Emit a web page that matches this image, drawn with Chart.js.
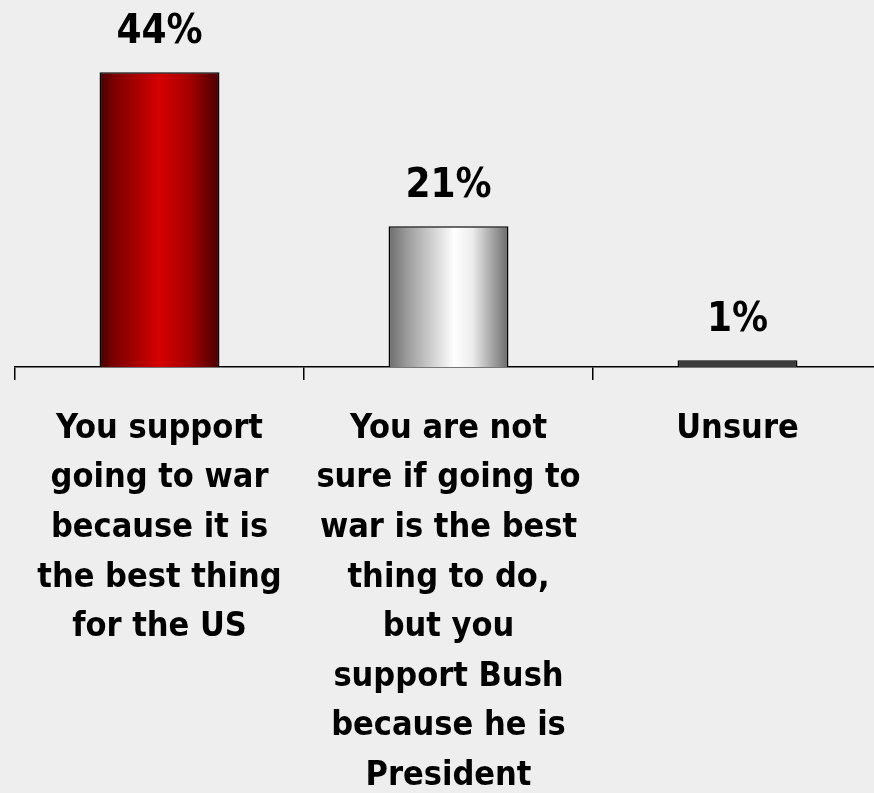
<!DOCTYPE html>
<html>
<head>
<meta charset="utf-8">
<script src="https://cdn.jsdelivr.net/npm/chart.js@4.4.1/dist/chart.umd.min.js"></script>
<style>
  html, body { margin: 0; padding: 0; background: #eeeeee; overflow: hidden; }
  #wrap { position: relative; width: 900px; height: 793px; }
</style>
</head>
<body>
<div id="wrap"><canvas id="c"></canvas></div>
<script>
const categories = [
  ["You support", "going to war", "because it is", "the best thing", "for the US"],
  ["You are not", "sure if going to", "war is the best", "thing to do,", "but you", "support Bush", "because he is", "President"],
  ["Unsure"]
];
const values = [44, 21, 1];
const valueLabels = ["44%", "21%", "1%"];

const FONT = "'DejaVu Sans Condensed', 'DejaVu Sans', sans-serif";
const BAR_FRACTION = 0.415;

const gradientStops = [
  [[0, '#4a0000'], [0.12, '#7c0000'], [0.5, '#d60000'], [0.75, '#a40000'], [1, '#470000']],
  [[0, '#6c6c6c'], [0.15, '#9a9a9a'], [0.55, '#ffffff'], [0.7, '#ececec'], [1, '#6a6a6a']],
  [[0, '#3c3c3c'], [1, '#3c3c3c']]
];

function barFill(ctx) {
  const chart = ctx.chart;
  const area = chart.chartArea;
  const i = ctx.dataIndex;
  if (!area || !chart.scales.x) return gradientStops[i][0][1];
  const xs = chart.scales.x;
  const cw = xs.width / categories.length;
  const cx = xs.getPixelForValue(i);
  const w = cw * BAR_FRACTION;
  const g = chart.ctx.createLinearGradient(cx - w / 2, 0, cx + w / 2, 0);
  gradientStops[i].forEach(s => g.addColorStop(s[0], s[1]));
  return g;
}

const valueLabelPlugin = {
  id: 'valueLabels',
  afterDatasetsDraw(chart) {
    const ctx = chart.ctx;
    const meta = chart.getDatasetMeta(0);
    ctx.save();
    ctx.fillStyle = '#000';
    ctx.font = "bold 40px " + FONT;
    ctx.textAlign = 'center';
    ctx.textBaseline = 'alphabetic';
    meta.data.forEach((bar, i) => {
      ctx.fillText(valueLabels[i], bar.x, bar.y - 29);
    });
    ctx.restore();
  }
};

new Chart(document.getElementById('c'), {
  type: 'bar',
  data: {
    labels: categories,
    datasets: [{
      data: values,
      backgroundColor: barFill,
      borderColor: '#000000',
      borderWidth: 1.5,
      barPercentage: BAR_FRACTION,
      categoryPercentage: 1.0
    }]
  },
  options: {
    responsive: true,
    maintainAspectRatio: false,
    animation: false,
    layout: { padding: { top: 32, left: 15, right: 18, bottom: 0 } },
    plugins: { legend: { display: false }, tooltip: { enabled: false } },
    scales: {
      y: { display: false, min: 0, max: 50 },
      x: {
        afterFit(scale) { scale.height = 793 - 367; },
        border: { display: true, color: '#000000', width: 1.5 },
        grid: { display: true, drawOnChartArea: false, drawTicks: true, tickLength: 13, color: '#000000', lineWidth: 1.5, offset: true },
        ticks: {
          color: '#000000',
          padding: 24,
          maxRotation: 0,
          autoSkip: false,
          font: { family: FONT, size: 34, weight: 'bold', lineHeight: 1.46 }
        }
      }
    }
  },
  plugins: [valueLabelPlugin]
});
</script>
</body>
</html>
